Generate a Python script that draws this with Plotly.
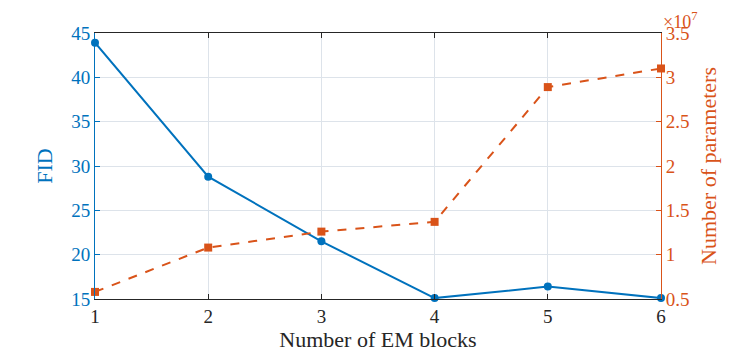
import plotly.graph_objects as go

blocks = [1, 2, 3, 4, 5, 6]
fid = [43.9, 28.8, 21.5, 15.1, 16.4, 15.1]
params_1e7 = [0.58, 1.08, 1.26, 1.37, 2.89, 3.10]
fid_ticks = [15, 20, 25, 30, 35, 40, 45]
param_ticks = [0.5, 1, 1.5, 2, 2.5, 3, 3.5]
param_ticktext = ['0.5', '1', '1.5', '2', '2.5', '3', '3.5']

blue = '#0072BD'
orange = '#D95319'
dark = '#262626'
ff = 'Liberation Serif'

fig = go.Figure()
fig.add_trace(go.Scatter(
    x=blocks, y=fid, mode='lines+markers', name='FID',
    line=dict(color=blue, width=2), marker=dict(color=blue, size=8, symbol='circle'),
    cliponaxis=False
))
fig.add_trace(go.Scatter(
    x=blocks, y=params_1e7, mode='lines+markers', name='Params', yaxis='y2',
    line=dict(color=orange, width=2, dash='dash'),
    marker=dict(color=orange, size=8, symbol='square'),
    cliponaxis=False
))

# page body adds an 8px offset, so margins are shifted to compensate
fig.update_layout(
    width=732, height=357,
    margin=dict(l=87, r=79, t=25, b=66),
    paper_bgcolor='white', plot_bgcolor='white',
    showlegend=False,
    font=dict(family=ff, size=19),
    xaxis=dict(
        range=[1, 6], tickvals=blocks, ticks='inside', ticklen=5,
        tickcolor=dark, showline=True, linecolor=dark, linewidth=1,
        mirror='ticks', showgrid=True, gridcolor='#DDE3EA', gridwidth=1,
        zeroline=False, automargin=False,
        tickfont=dict(family=ff, color=dark, size=19),
        title=dict(text='Number of EM blocks', font=dict(family=ff, size=22, color=dark), standoff=0),
    ),
    yaxis=dict(
        range=[15, 45], tickvals=fid_ticks, ticks='inside', ticklen=5,
        tickcolor=blue, showline=True, linecolor=blue, linewidth=1,
        showgrid=True, gridcolor='#DDE3EA', gridwidth=1, zeroline=False,
        automargin=False,
        tickfont=dict(family=ff, color=blue, size=19),
        title=dict(text='FID', font=dict(family=ff, size=22, color=blue), standoff=12),
    ),
    yaxis2=dict(
        range=[0.5, 3.5], tickvals=param_ticks, ticktext=param_ticktext,
        overlaying='y', side='right', ticks='inside', ticklen=5,
        tickcolor=orange, showline=True, linecolor=orange, linewidth=1,
        showgrid=False, zeroline=False, automargin=False,
        tickfont=dict(family=ff, color=orange, size=19),
        title=dict(text='Number of parameters', font=dict(family=ff, size=22, color=orange), standoff=12),
    ),
)
fig.add_annotation(
    xref='paper', yref='paper', x=1.0, y=1.0, xanchor='left', yanchor='top',
    text='\u00d710<sup>7</sup>', showarrow=False, borderpad=0,
    font=dict(family=ff, size=18, color=orange), xshift=1, yshift=25
)
fig.write_html('out.html')
